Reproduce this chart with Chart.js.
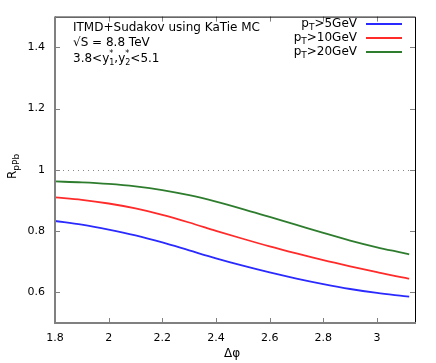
<!DOCTYPE html>
<html>
<head>
<meta charset="utf-8">
<script src="https://cdn.jsdelivr.net/npm/chart.js@4"></script>
<style>
  html, body { margin: 0; padding: 0; background: #fff; }
  #wrap { width: 436px; height: 363px; }
</style>
</head>
<body>
<div id="wrap"><canvas id="c" width="436" height="363"></canvas></div>
<script>
// delta phi sample points
const dphi = [1.8, 1.9, 2.0, 2.1, 2.2, 2.3, 2.4, 2.5, 2.6, 2.7, 2.8, 2.9, 3.0, 3.1, 3.12];

// R_pPb for each pT cut
const pt5 = [0.833, 0.821, 0.805, 0.786, 0.763, 0.737, 0.711, 0.687, 0.665, 0.645, 0.627, 0.611, 0.598, 0.588, 0.586];
const pt10 = [0.910, 0.902, 0.890, 0.874, 0.853, 0.828, 0.801, 0.775, 0.750, 0.727, 0.705, 0.685, 0.666, 0.648, 0.645];
const pt20 = [0.962, 0.959, 0.954, 0.946, 0.934, 0.917, 0.896, 0.872, 0.846, 0.820, 0.794, 0.769, 0.747, 0.728, 0.724];

const seriesNames = ['>5GeV', '>10GeV', '>20GeV'];
const seriesColors = ['#2a2aff', '#ff2a2a', '#2e7d2e'];

const xTicks = [1.8, 2, 2.2, 2.4, 2.6, 2.8, 3];
const yTicks = [0.6, 0.8, 1, 1.2, 1.4];
const xRange = [1.8, Math.PI];
const yRange = [0.5, 1.5];

const FONT = '"DejaVu Sans", sans-serif';

const toPoints = ys => dphi.map((x, i) => ({ x: x, y: ys[i] }));

// frame, inward ticks, dotted line at 1, texts and legend
const decor = {
  id: 'decor',
  afterDatasetsDraw(chart) {
    const { ctx, chartArea: a, scales } = chart;
    const xs = scales.x, ys = scales.y;
    ctx.save();

    // dotted reference line
    ctx.strokeStyle = '#888';
    ctx.lineWidth = 1;
    ctx.setLineDash([1, 4]);
    const y1 = Math.round(ys.getPixelForValue(1));
    ctx.beginPath();
    ctx.moveTo(a.left + 3, y1 + 0.5);
    ctx.lineTo(a.right, y1 + 0.5);
    ctx.stroke();
    ctx.setLineDash([]);

    // ticks
    ctx.strokeStyle = '#808080';
    ctx.lineWidth = 1;
    ctx.beginPath();
    xTicks.forEach(v => {
      const px = Math.round(xs.getPixelForValue(v)) + 0.5;
      ctx.moveTo(px, a.bottom); ctx.lineTo(px, a.bottom - 5);
      ctx.moveTo(px, a.top); ctx.lineTo(px, a.top + 5);
    });
    yTicks.forEach(v => {
      const py = Math.round(ys.getPixelForValue(v)) + 0.5;
      ctx.moveTo(a.left, py); ctx.lineTo(a.left + 5, py);
      ctx.moveTo(a.right, py); ctx.lineTo(a.right - 5, py);
    });
    ctx.stroke();

    // border: black top/right, grey left/bottom
    ctx.strokeStyle = '#000';
    ctx.lineWidth = 1;
    ctx.beginPath();
    ctx.moveTo(a.left, a.top + 0.5); ctx.lineTo(a.right + 0.5, a.top + 0.5);
    ctx.lineTo(a.right + 0.5, a.bottom);
    ctx.stroke();
    ctx.strokeStyle = '#808080';
    ctx.lineWidth = 2;
    ctx.beginPath();
    ctx.moveTo(a.left, a.top); ctx.lineTo(a.left, a.bottom);
    ctx.lineTo(a.right + 1, a.bottom);
    ctx.stroke();

    // annotation text
    ctx.fillStyle = '#000';
    ctx.textBaseline = 'middle';
    ctx.textAlign = 'left';
    ctx.font = '12px ' + FONT;
    ctx.fillText('ITMD+Sudakov using KaTie MC', 73, 28);
    ctx.fillText('\u221AS = 8.8 TeV', 73, 43);
    let tx = 73;
    const ty = 59;
    const piece = (txt, dy, size) => {
      ctx.font = size + 'px ' + FONT;
      ctx.fillText(txt, tx, ty + dy);
      return ctx.measureText(txt).width;
    };
    tx += piece('3.8<y', 0, 12);
    let w1 = piece('*', -5, 8);
    let w2 = piece('1', 4, 8);
    tx += Math.max(w1, w2);
    tx += piece(',y', 0, 12);
    w1 = piece('*', -5, 8);
    w2 = piece('2', 4, 8);
    tx += Math.max(w1, w2);
    piece('<5.1', 0, 12);

    // legend
    const legY = [24, 38, 52];
    seriesNames.forEach((name, i) => {
      const y = legY[i];
      ctx.textAlign = 'right';
      ctx.font = '12px ' + FONT;
      const rest = ctx.measureText(name).width;
      ctx.fillText(name, 357, y);
      ctx.font = '9px ' + FONT;
      const tw = ctx.measureText('T').width;
      ctx.fillText('T', 357 - rest, y + 4);
      ctx.font = '12px ' + FONT;
      ctx.fillText('p', 357 - rest - tw, y);
      ctx.strokeStyle = seriesColors[i];
      ctx.lineWidth = 2;
      ctx.beginPath();
      ctx.moveTo(366, y);
      ctx.lineTo(402, y);
      ctx.stroke();
    });

    // axis titles
    ctx.textAlign = 'center';
    ctx.font = '12px ' + FONT;
    ctx.fillText('\u0394\u03C6', 232, 354);

    ctx.translate(13, 168);
    ctx.rotate(-Math.PI / 2);
    ctx.textAlign = 'left';
    ctx.font = '12px ' + FONT;
    ctx.fillText('R', -11, 0);
    const rw = ctx.measureText('R').width;
    ctx.font = '9px ' + FONT;
    ctx.fillText('pPb', -11 + rw, 4);
    ctx.restore();
  }
};

new Chart(document.getElementById('c').getContext('2d'), {
  type: 'line',
  data: {
    datasets: [pt5, pt10, pt20].map((ys, i) => ({
      label: 'pT' + seriesNames[i],
      data: toPoints(ys),
      borderColor: seriesColors[i],
      borderWidth: 1.8,
      pointRadius: 0,
      fill: false,
      cubicInterpolationMode: 'monotone'
    }))
  },
  options: {
    responsive: false,
    animation: false,
    layout: { padding: { top: 13, right: 21, left: 0, bottom: 0 } },
    plugins: {
      legend: { display: false },
      tooltip: { enabled: false }
    },
    scales: {
      x: {
        type: 'linear',
        min: xRange[0],
        max: xRange[1],
        afterBuildTicks: s => { s.ticks = xTicks.map(v => ({ value: v })); },
        afterFit: s => { s.height = 40; },
        grid: { display: false, drawTicks: false },
        border: { display: false },
        ticks: {
          color: '#000',
          font: { family: FONT, size: 11 },
          padding: 9,
          maxRotation: 0,
          callback: v => String(v)
        }
      },
      y: {
        type: 'linear',
        min: yRange[0],
        max: yRange[1],
        afterBuildTicks: s => { s.ticks = yTicks.map(v => ({ value: v })); },
        afterFit: s => { s.width = 55; },
        grid: { display: false, drawTicks: false },
        border: { display: false },
        ticks: {
          color: '#000',
          font: { family: FONT, size: 11 },
          padding: 10,
          callback: v => String(v)
        }
      }
    }
  },
  plugins: [decor]
});
</script>
</body>
</html>
